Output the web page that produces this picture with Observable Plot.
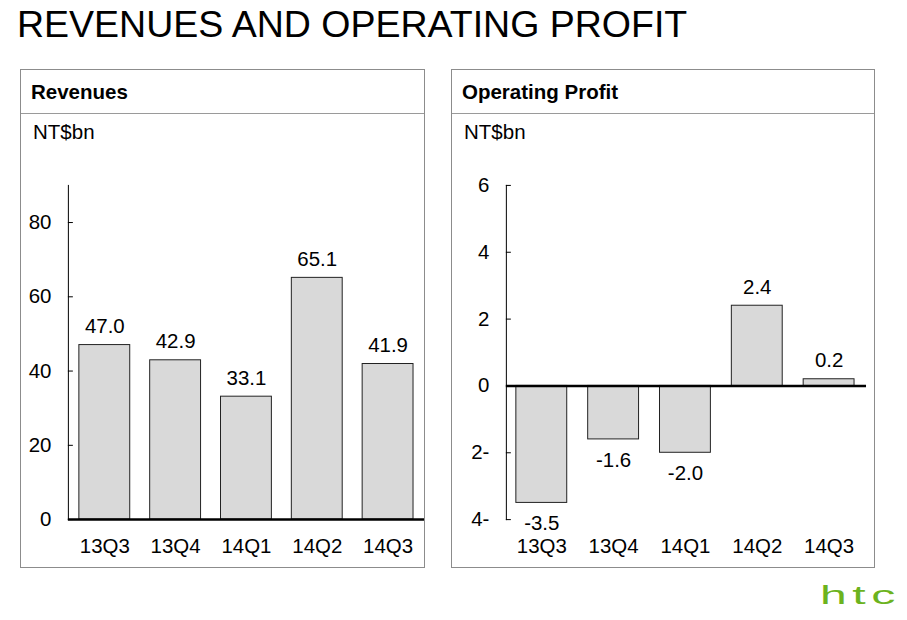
<!DOCTYPE html>
<html>
<head>
<meta charset="utf-8">
<script src="https://cdn.jsdelivr.net/npm/d3@7"></script>
<script src="https://cdn.jsdelivr.net/npm/@observablehq/plot@0.6"></script>
<style>
  html, body { margin:0; padding:0; background:#fff; }
  body { width:907px; height:620px; position:relative; overflow:hidden; font-family:"Liberation Sans", Arial, sans-serif; }
  #title { position:absolute; left:17px; top:3px; font-size:37.5px; color:#000; white-space:nowrap; }
  .panel { position:absolute; top:69px; height:499px; border:1px solid #8c8c8c; box-sizing:border-box; }
  .head { position:absolute; left:0; right:0; top:0; height:43px; border-bottom:1px solid #9a9a9a; }
  .head span { position:absolute; left:10px; top:10px; font-size:20.5px; font-weight:bold; }
  .unit { position:absolute; left:12px; top:50px; font-size:20.5px; }
  .chart { position:absolute; top:80px; left:-1px; }
  #logo { position:absolute; left:820px; top:582px; font-family:"Liberation Sans", Arial, sans-serif; font-size:26px; line-height:26px; color:#6cb31e; letter-spacing:3px; transform:scaleX(1.85); transform-origin:0 0; white-space:nowrap; }
</style>
</head>
<body>
<div id="title">REVENUES AND OPERATING PROFIT</div>
<div class="panel" id="p1" style="left:20px;width:405px;">
  <div class="head"><span>Revenues</span></div>
  <div class="unit">NT$bn</div>
  <div class="chart" id="c1"></div>
</div>
<div class="panel" id="p2" style="left:451px;width:424px;">
  <div class="head"><span>Operating Profit</span></div>
  <div class="unit">NT$bn</div>
  <div class="chart" id="c2"></div>
</div>
<div id="logo">htc</div>
<script>
const quarters = ["13Q3", "13Q4", "14Q1", "14Q2", "14Q3"];
const revenues = [47.0, 42.9, 33.1, 65.1, 41.9];
const profit = [-3.5, -1.6, -2.0, 2.4, 0.2];
const revTicks = [0, 20, 40, 60, 80];
const profitTicks = [-4, -2, 0, 2, 4, 6];
const profitTickLabels = ["4-", "2-", "0", "2", "4", "6"];

const revData = quarters.map((q, i) => ({q, v: revenues[i]}));
const profData = quarters.map((q, i) => ({q, v: profit[i]}));

const FONT = "Liberation Sans, Arial, sans-serif";
const FS = 20.5;

// Revenues chart
const W1 = 405, H1 = 420, ML1 = 48;
const c1 = Plot.plot({
  width: W1, height: H1,
  marginLeft: ML1, marginRight: 0, marginTop: 35, marginBottom: 50,
  style: {fontFamily: FONT, fontSize: FS + "px", color: "#000", background: "transparent"},
  x: {domain: quarters, range: [ML1, 405], paddingInner: 0.284, paddingOuter: 0.14},
  y: {domain: [0, 90]},
  marks: [
    Plot.barY(revData, {x: "q", y: "v", fill: "#d9d9d9", stroke: "#222", strokeWidth: 1}),
    Plot.frame({anchor: "left", stroke: "#000", strokeWidth: 1}),
    Plot.ruleY(revTicks, {y: d => d, insetRight: W1 - ML1 - 5, stroke: "#000"}),
    Plot.ruleY([0], {stroke: "#000", strokeWidth: 2.5}),
    Plot.text(revData, {x: "q", y: "v", text: d => d.v.toFixed(1), lineAnchor: "bottom", dy: -12, fontSize: FS, fill: "#000"}),
    Plot.axisY({ticks: revTicks, tickSize: 0, tickPadding: 17, fontSize: FS, label: null}),
    Plot.axisX({tickSize: 0, tickPadding: 19, fontSize: FS, label: null})
  ]
});
document.getElementById("c1").appendChild(c1);

// Operating profit chart
const W2 = 424, H2 = 420, ML2 = 55, MR2 = 8;
const c2 = Plot.plot({
  width: W2, height: H2,
  marginLeft: ML2, marginRight: MR2, marginTop: 35, marginBottom: 50,
  style: {fontFamily: FONT, fontSize: FS + "px", color: "#000", background: "transparent"},
  x: {domain: quarters, range: [ML2, 413], paddingInner: 0.294, paddingOuter: 0.125},
  y: {domain: [-4, 6]},
  marks: [
    Plot.barY(profData, {x: "q", y: "v", fill: "#d9d9d9", stroke: "#222", strokeWidth: 1}),
    Plot.frame({anchor: "left", stroke: "#000", strokeWidth: 1}),
    Plot.ruleY(profitTicks, {y: d => d, insetRight: W2 - ML2 - MR2 - 5, stroke: "#000"}),
    Plot.ruleY([0], {stroke: "#000", strokeWidth: 2.5}),
    Plot.text(profData.filter(d => d.v >= 0), {x: "q", y: "v", text: d => d.v.toFixed(1), lineAnchor: "bottom", dy: -12, fontSize: FS, fill: "#000"}),
    Plot.text(profData.filter(d => d.v < 0), {x: "q", y: "v", text: d => d.v.toFixed(1), lineAnchor: "top", dy: 13, fontSize: FS, fill: "#000"}),
    Plot.axisY({ticks: profitTicks, tickFormat: d => profitTickLabels[profitTicks.indexOf(d)], tickSize: 0, tickPadding: 17, fontSize: FS, label: null}),
    Plot.axisX({tickSize: 0, tickPadding: 19, fontSize: FS, label: null})
  ]
});
document.getElementById("c2").appendChild(c2);
</script>
</body>
</html>
